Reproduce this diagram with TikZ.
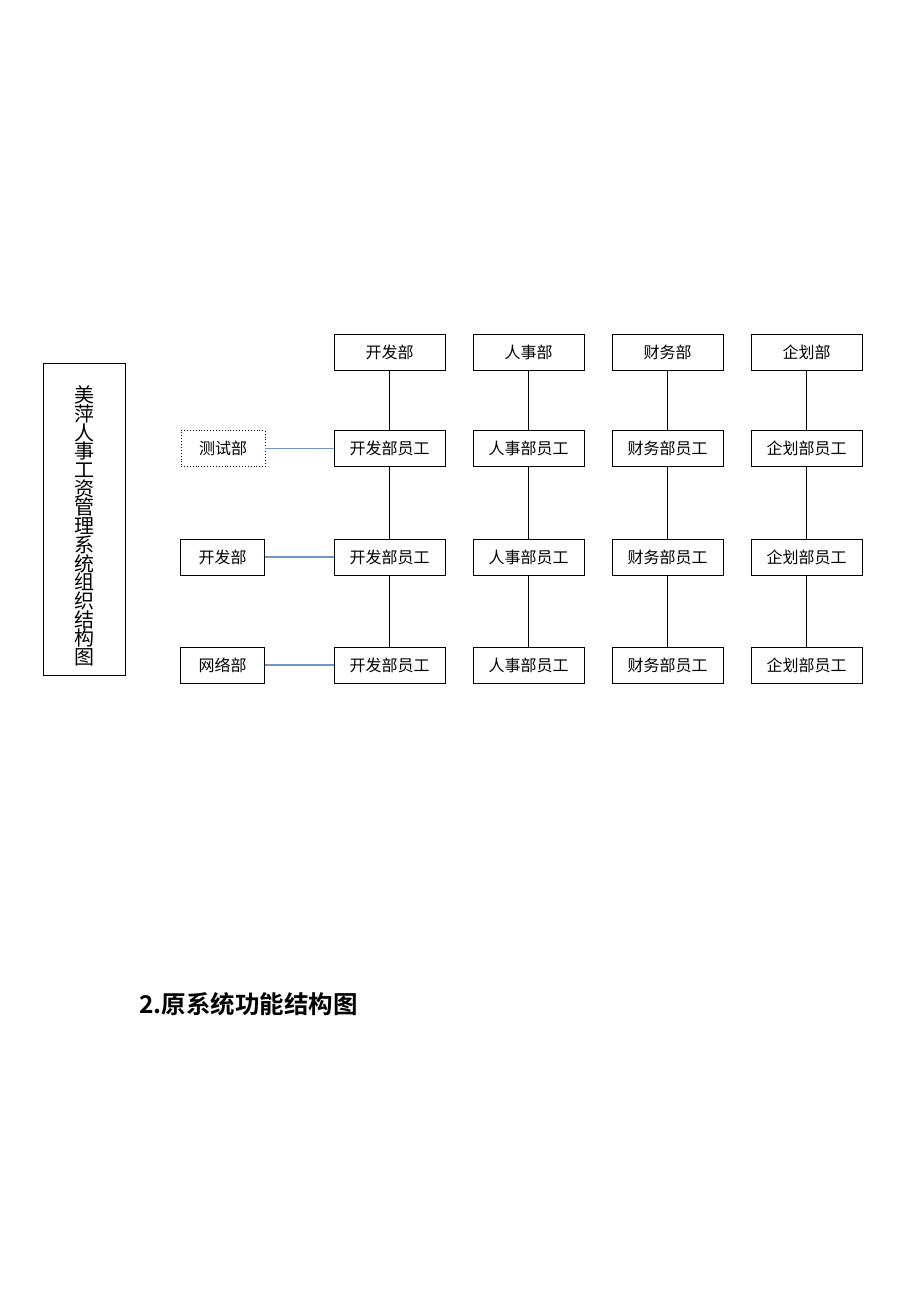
\documentclass[tikz,border=0pt]{standalone}
\usepackage{fontspec}
\setmainfont{Noto Sans CJK SC}
\newfontfamily\cjkbold[BoldFont={Noto Sans CJK SC Bold}]{Noto Sans CJK SC}
\definecolor{linkblue}{RGB}{110,150,200}
\begin{document}
\begin{tikzpicture}[x=1pt,y=-1pt,
  box/.style={draw=black,line width=0.9pt,minimum width=111pt,minimum height=36pt,inner sep=0pt,font=\fontsize{16}{18}\selectfont},
  lbox/.style={draw=black,line width=0.9pt,minimum width=84pt,minimum height=36pt,inner sep=0pt,font=\fontsize{16}{18}\selectfont},
  dbox/.style={lbox,dotted,line width=0.7pt},
  vline/.style={draw=black,line width=0.9pt},
  bline/.style={draw=linkblue,line width=1.6pt}]
\useasboundingbox (0,0) rectangle (920,1302);
\fill[white] (0,0) rectangle (920,1302);
% title box
\node[draw=black,line width=0.9pt,minimum width=82pt,minimum height=312pt,inner sep=0pt] (title) at (84,519) {};
\node[align=center,font=\fontsize{20}{18.7}\selectfont,inner sep=0pt] (ttext) at (84,526) {美\\萍\\人\\事\\工\\资\\管\\理\\系\\统\\组\\织\\结\\构\\图};
% columns
\foreach \c/\x/\h/\e in {a/389.5/开发部/开发部员工, b/528.5/人事部/人事部员工, c/667.5/财务部/财务部员工, d/806.5/企划部/企划部员工}{
  \node[box] (\c0) at (\x,352) {\h};
  \node[box] (\c1) at (\x,448.5) {\e};
  \node[box] (\c2) at (\x,557) {\e};
  \node[box] (\c3) at (\x,665) {\e};
  \draw[vline] (\c0) -- (\c1);
  \draw[vline] (\c1) -- (\c2);
  \draw[vline] (\c2) -- (\c3);
}
% left boxes
\node[dbox] (l1) at (223,448.5) {测试部};
\node[lbox] (l2) at (222.5,557) {开发部};
\node[lbox] (l3) at (222.5,665) {网络部};
\draw[bline] (l1.east) -- (a1.west);
\draw[bline] (l2.east) -- (a2.west);
\draw[bline] (l3.east) -- (a3.west);
% heading
\node[anchor=west,inner sep=0pt,font=\cjkbold\bfseries\fontsize{24.5}{28}\selectfont] (head) at (139,1004) {2.原系统功能结构图};
\end{tikzpicture}
\end{document}
